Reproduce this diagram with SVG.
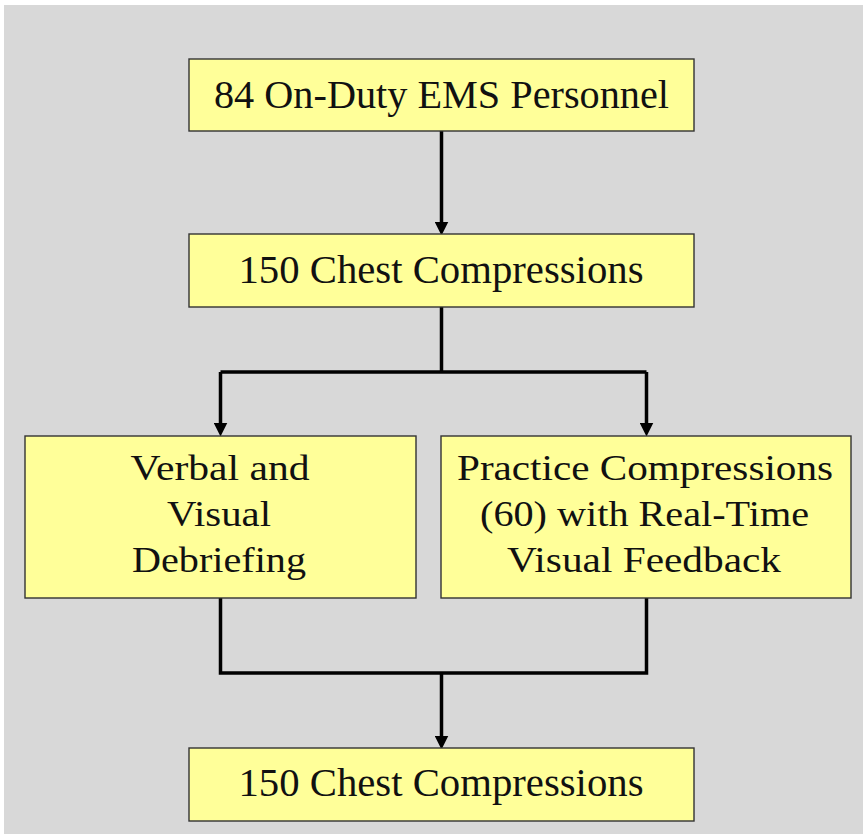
<svg xmlns="http://www.w3.org/2000/svg" width="863" height="834" viewBox="0 0 863 834">
<style>
.box{fill:#ffff99;stroke:#333333;stroke-width:1.4}
.lbl{fill:#111111;text-anchor:middle}
.big{font-size:41px}
.mid{font-size:35px}
.con{fill:none;stroke:#000000;stroke-width:3.5;stroke-linejoin:miter}
</style>
<defs>
<marker id="ah" markerUnits="userSpaceOnUse" markerWidth="14" markerHeight="14" viewBox="0 0 12 12" refX="3" refY="6" orient="auto">
<path d="M0,0 L12,6 L0,12 z" fill="#000000"/>
</marker>
</defs>
<rect x="0" y="0" width="863" height="834" fill="#ffffff"/>
<rect x="4" y="5" width="859" height="829" fill="#d8d8d8"/>
<g id="connectors">
<path class="con" d="M441.5 131 V225" marker-end="url(#ah)"/>
<path class="con" d="M441.5 307 V372"/>
<path class="con" d="M220.5 372 H646.5"/>
<path class="con" d="M220.5 372 V426" marker-end="url(#ah)"/>
<path class="con" d="M646.5 372 V426" marker-end="url(#ah)"/>
<path class="con" d="M220.5 598 V673 H646.5 V598"/>
<path class="con" d="M441.5 673 V739" marker-end="url(#ah)"/>
</g>
<g font-family="'Liberation Serif', 'DejaVu Serif', 'Times New Roman', serif">
<g id="n1">
<rect class="box" x="189" y="59" width="505" height="72"/>
<text class="lbl big" x="441.5" y="107.5" textLength="455" lengthAdjust="spacingAndGlyphs">84 On-Duty EMS Personnel</text>
</g>
<g id="n2">
<rect class="box" x="189" y="234" width="505" height="73"/>
<text class="lbl big" x="441" y="283" textLength="405" lengthAdjust="spacingAndGlyphs">150 Chest Compressions</text>
</g>
<g id="n3">
<rect class="box" x="25" y="436" width="391" height="162"/>
<text class="lbl mid" x="220" y="480" textLength="179" lengthAdjust="spacingAndGlyphs">Verbal and</text>
<text class="lbl mid" x="219" y="526" textLength="104" lengthAdjust="spacingAndGlyphs">Visual</text>
<text class="lbl mid" x="219" y="572" textLength="174" lengthAdjust="spacingAndGlyphs">Debriefing</text>
</g>
<g id="n4">
<rect class="box" x="441" y="436" width="410" height="162"/>
<text class="lbl mid" x="645" y="480" textLength="376" lengthAdjust="spacingAndGlyphs">Practice Compressions</text>
<text class="lbl mid" x="644.5" y="526" textLength="329" lengthAdjust="spacingAndGlyphs">(60) with Real-Time</text>
<text class="lbl mid" x="644" y="572" textLength="274" lengthAdjust="spacingAndGlyphs">Visual Feedback</text>
</g>
<g id="n5">
<rect class="box" x="189" y="748" width="505" height="73"/>
<text class="lbl big" x="441" y="796" textLength="405" lengthAdjust="spacingAndGlyphs">150 Chest Compressions</text>
</g>
</g>
</svg>
